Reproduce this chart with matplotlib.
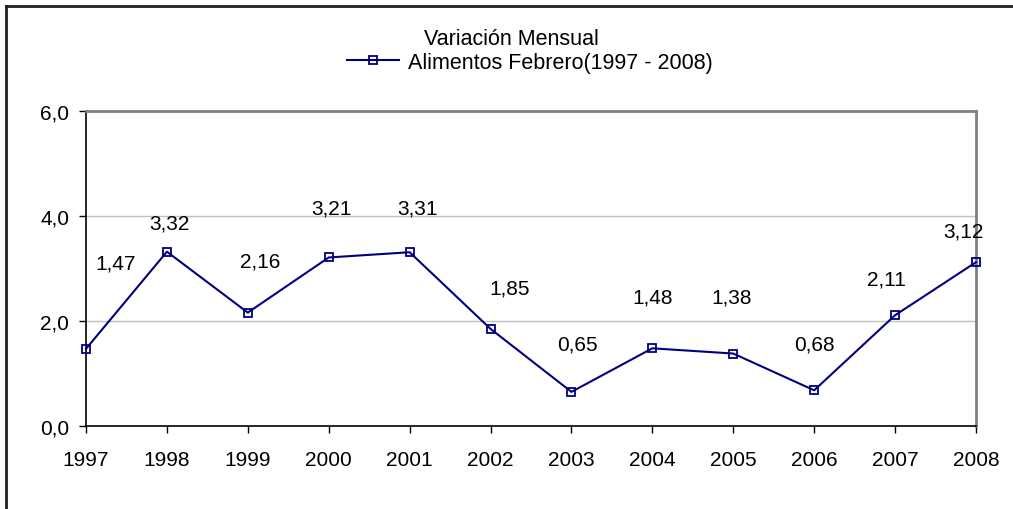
import matplotlib.pyplot as plt
from matplotlib.lines import Line2D

plt.rcParams['font.family'] = ['Liberation Sans', 'DejaVu Sans']

years = [1997, 1998, 1999, 2000, 2001, 2002, 2003, 2004, 2005, 2006, 2007, 2008]
values = [1.47, 3.32, 2.16, 3.21, 3.31, 1.85, 0.65, 1.48, 1.38, 0.68, 2.11, 3.12]
y_ticks = [0, 2, 4, 6]

# label offsets in pixels (x, y up), hand placed like in the original sheet
label_offsets = [(30, 86), (3, 29), (12, 52), (3, 49), (8, 44), (19, 41),
                 (6, 48), (0, 51), (-2, 57), (0, 46), (-9, 36), (-13, 31)]

fs = 15

fig = plt.figure(figsize=(10.13, 5.10), dpi=100)
ax = fig.add_axes([86 / 1013, 1 - 427 / 510, 890 / 1013, 315 / 510])

navy = '#000080'
ax.plot(years, values, color=navy, lw=1.5, marker='s', markersize=6,
        markerfacecolor='none', markeredgecolor=navy, markeredgewidth=1.3,
        label='Alimentos Febrero(1997 - 2008)', clip_on=False, zorder=3)

for x, v, (dx, dy) in zip(years, values, label_offsets):
    ax.annotate(f"{v:.2f}".replace('.', ','), (x, v), xytext=(dx, dy),
                textcoords='offset pixels', ha='center', va='center',
                fontsize=fs)

ax.set_xlim(years[0], years[-1])
ax.set_ylim(0, 6)
ax.set_xticks(years)
ax.set_xticklabels([str(y) for y in years])
ax.set_yticks(y_ticks)
ax.set_yticklabels([f"{t:.1f}".replace('.', ',') for t in y_ticks])
ax.tick_params(labelsize=fs, length=5, width=1, color='black')
ax.tick_params(axis='x', pad=12)
ax.tick_params(axis='y', pad=7)
for t in [2, 4]:
    ax.axhline(t, color='#c0c0c0', lw=1, zorder=1)

ax.spines['left'].set_color('black')
ax.spines['bottom'].set_color('black')
ax.spines['top'].set_color('#808080')
ax.spines['right'].set_color('#808080')
ax.spines['top'].set_linewidth(2)
ax.spines['right'].set_linewidth(2)
ax.spines['left'].set_linewidth(1.2)
ax.spines['bottom'].set_linewidth(1.2)

fig.text(511 / 1013, 1 - 40 / 510, 'Variación Mensual', ha='center', va='center',
         fontsize=fs + 0.5)
fig.legend(loc='center', bbox_to_anchor=(530 / 1013, 1 - 63 / 510), frameon=False,
           fontsize=fs + 0.5, handlelength=2.4, handletextpad=0.4, borderpad=0)

# outer chart frame (only left and top edges visible)
fig.add_artist(Line2D([6 / 1013, 6 / 1013], [0, 1 - 7 / 510], color='#202020', lw=2))
fig.add_artist(Line2D([6 / 1013, 1], [1 - 7 / 510, 1 - 7 / 510], color='#202020', lw=2))

plt.savefig('out.png', dpi=100)
